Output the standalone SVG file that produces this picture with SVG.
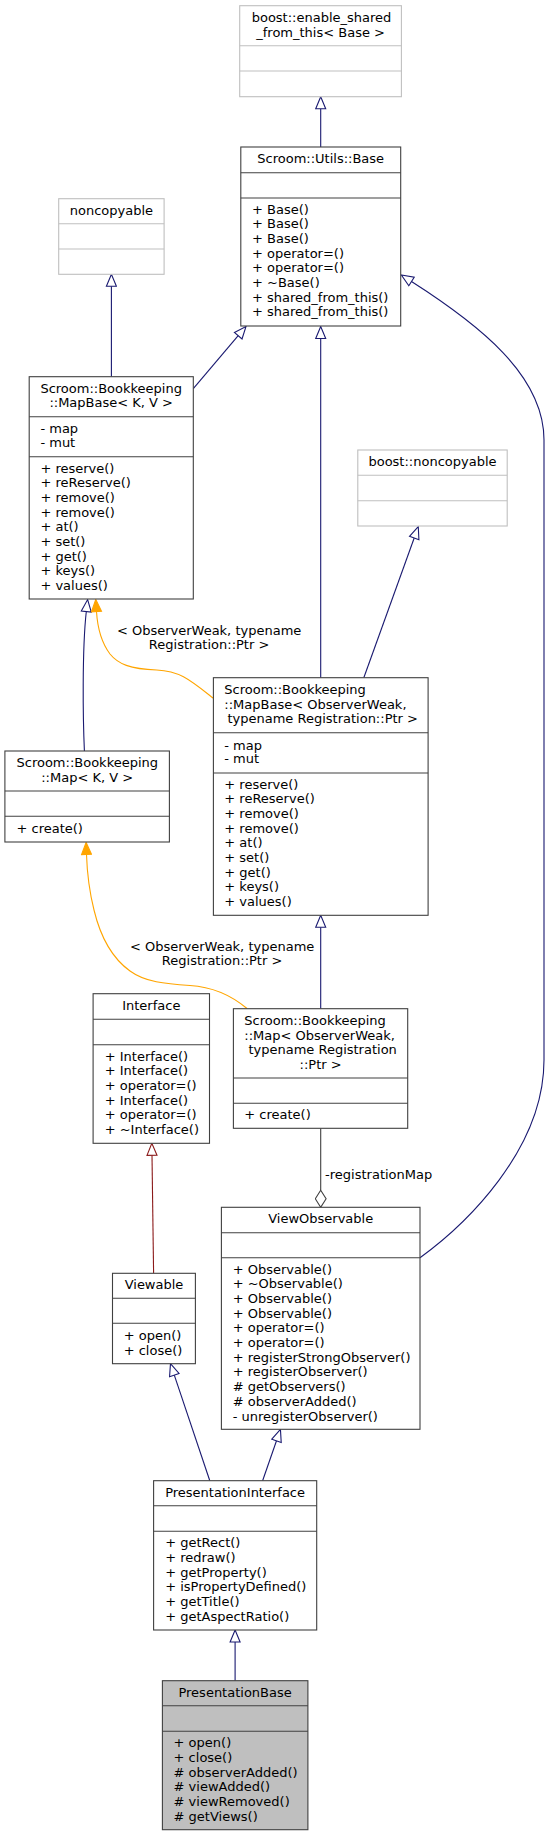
<svg xmlns="http://www.w3.org/2000/svg" width="551" height="1836" viewBox="0 0 551 1836">
<style>
text{font-family:"DejaVu Sans","Liberation Sans",sans-serif;font-size:13px;fill:#000}
.m{text-anchor:middle}
.box{fill:#fff;stroke:#404040;stroke-width:1.1}
.ext{fill:#fff;stroke:#bfbfbf;stroke-width:1.1}
.main{fill:#bfbfbf;stroke:#404040;stroke-width:1.1}
.sep{stroke:#404040;stroke-width:1.1}
.sepx{stroke:#bfbfbf;stroke-width:1.1}
.eb{fill:none;stroke:#191970;stroke-width:1.1}
.eo{fill:none;stroke:#ffa500;stroke-width:1.1}
.er{fill:none;stroke:#8b1a1a;stroke-width:1.1}
.eg{fill:none;stroke:#404040;stroke-width:1.1}
</style>
<defs>
<marker id="hb" markerUnits="userSpaceOnUse" orient="auto" refX="0" refY="6" markerWidth="14" markerHeight="12" viewBox="-1 0 14 12"><path d="M0,1 L12,6 L0,11 Z" fill="#fff" stroke="#191970" stroke-width="1.1"/></marker>
<marker id="hr" markerUnits="userSpaceOnUse" orient="auto" refX="0" refY="6" markerWidth="14" markerHeight="12" viewBox="-1 0 14 12"><path d="M0,1 L12,6 L0,11 Z" fill="#fff" stroke="#8b1a1a" stroke-width="1.1"/></marker>
<marker id="fo" markerUnits="userSpaceOnUse" orient="auto" refX="0" refY="6" markerWidth="14" markerHeight="12" viewBox="-1 0 14 12"><path d="M0,1 L12,6 L0,11 Z" fill="#ffa500" stroke="#ffa500" stroke-width="1.1"/></marker>
<marker id="dg" markerUnits="userSpaceOnUse" orient="auto" refX="0" refY="6" markerWidth="19" markerHeight="12" viewBox="-1 0 19 12"><path d="M0,6 L8.5,0.6 L17,6 L8.5,11.4 Z" fill="#fff" stroke="#404040" stroke-width="1.1"/></marker>
</defs>

<g id="connectors">
<path class="eb" d="M320.7,147 L320.7,108.7" marker-end="url(#hb)"/>
<path class="eb" d="M111.4,376.7 L111.4,286.3" marker-end="url(#hb)"/>
<path class="eb" d="M193.3,388.7 L238.2,335.7" marker-end="url(#hb)"/>
<path class="eb" d="M320.7,677.7 L320.7,338.5" marker-end="url(#hb)"/>
<path class="eb" d="M363.8,677.7 L414.2,538" marker-end="url(#hb)"/>
<path class="eb" d="M84.4,751 C83,720 82,650 86.3,611.5" marker-end="url(#hb)"/>
<path class="eo" d="M213.4,698.3 C190,680 180,671 156.7,670 C130,669 118,664 110,654 C101,642 97.5,628 96.5,611.5" marker-end="url(#fo)"/>
<text class="m" x="209.1" y="635.2">&lt; ObserverWeak, typename</text>
<text class="m" x="209.1" y="648.8">Registration::Ptr &gt;</text>
<path class="eo" d="M247,1008.5 C232,996 215,987 190,985.5 C165,984 145,982 130,971 C112,958 100,935 94,910 C89,890 87,870 86.5,854.5" marker-end="url(#fo)"/>
<text class="m" x="222.1" y="950.8">&lt; ObserverWeak, typename</text>
<text class="m" x="222.1" y="965.2">Registration::Ptr &gt;</text>
<path class="eb" d="M320.7,1008.7 L320.7,927.3" marker-end="url(#hb)"/>
<path class="eg" d="M320.7,1128.3 L320.7,1190.3" marker-end="url(#dg)"/>
<text x="325.1" y="1178.8">-registrationMap</text>
<path class="eb" d="M420,1257.7 C465,1225 544,1150 544,1060 L544,440 C544,375 478,324 411.5,281.5" marker-end="url(#hb)"/>
<path class="er" d="M153.6,1273.3 L152,1155.3" marker-end="url(#hr)"/>
<path class="eb" d="M209.8,1480.7 L174.3,1375.1" marker-end="url(#hb)"/>
<path class="eb" d="M262.6,1480.7 L276.5,1440.8" marker-end="url(#hb)"/>
<path class="eb" d="M235.1,1680.7 L235.1,1642" marker-end="url(#hb)"/>
</g>

<g id="enable_shared_from_this">
<rect class="ext" x="239.7" y="5.7" width="161.7" height="91"/>
<line class="sepx" x1="239.7" y1="45.7" x2="401.4" y2="45.7"/>
<line class="sepx" x1="239.7" y1="71" x2="401.4" y2="71"/>
<text x="251.7" y="21.8">boost::enable_shared</text>
<text class="m" x="320.6" y="36.5">_from_this&lt; Base &gt;</text>
</g>

<g id="Base">
<rect class="box" x="240.8" y="147" width="159.9" height="179"/>
<line class="sep" x1="240.8" y1="172.7" x2="400.7" y2="172.7"/>
<line class="sep" x1="240.8" y1="198" x2="400.7" y2="198"/>
<text class="m" x="320.7" y="163.2">Scroom::Utils::Base</text>
<text x="252" y="213.8">+ Base()<tspan x="252" dy="14.67">+ Base()</tspan><tspan x="252" dy="14.67">+ Base()</tspan><tspan x="252" dy="14.67">+ operator=()</tspan><tspan x="252" dy="14.67">+ operator=()</tspan><tspan x="252" dy="14.67">+ ~Base()</tspan><tspan x="252" dy="14.67">+ shared_from_this()</tspan><tspan x="252" dy="14.67">+ shared_from_this()</tspan></text>
</g>

<g id="noncopyable">
<rect class="ext" x="58.7" y="198.7" width="105.4" height="75.6"/>
<line class="sepx" x1="58.7" y1="223.7" x2="164.1" y2="223.7"/>
<line class="sepx" x1="58.7" y1="249" x2="164.1" y2="249"/>
<text class="m" x="111.4" y="214.8">noncopyable</text>
</g>

<g id="MapBaseKV">
<rect class="box" x="29.2" y="376.7" width="164.1" height="222.3"/>
<line class="sep" x1="29.2" y1="416.7" x2="193.3" y2="416.7"/>
<line class="sep" x1="29.2" y1="456.7" x2="193.3" y2="456.7"/>
<text x="40.4" y="393.2">Scroom::Bookkeeping</text>
<text class="m" x="111.2" y="406.8">::MapBase&lt; K, V &gt;</text>
<text x="40.4" y="433.2">- map<tspan x="40.4" dy="14.2">- mut</tspan></text>
<text x="40.4" y="472.5">+ reserve()<tspan x="40.4" dy="14.67">+ reReserve()</tspan><tspan x="40.4" dy="14.67">+ remove()</tspan><tspan x="40.4" dy="14.67">+ remove()</tspan><tspan x="40.4" dy="14.67">+ at()</tspan><tspan x="40.4" dy="14.67">+ set()</tspan><tspan x="40.4" dy="14.67">+ get()</tspan><tspan x="40.4" dy="14.67">+ keys()</tspan><tspan x="40.4" dy="14.67">+ values()</tspan></text>
</g>

<g id="boost_noncopyable">
<rect class="ext" x="357.8" y="450" width="149.4" height="76"/>
<line class="sepx" x1="357.8" y1="475.3" x2="507.2" y2="475.3"/>
<line class="sepx" x1="357.8" y1="500.7" x2="507.2" y2="500.7"/>
<text class="m" x="432.5" y="465.8">boost::noncopyable</text>
</g>

<g id="MapBaseObserverWeak">
<rect class="box" x="213.4" y="677.7" width="214.7" height="237.6"/>
<line class="sep" x1="213.4" y1="732.7" x2="428.1" y2="732.7"/>
<line class="sep" x1="213.4" y1="773" x2="428.1" y2="773"/>
<text x="224.3" y="694.2">Scroom::Bookkeeping</text>
<text x="224.3" y="708.8">::MapBase&lt; ObserverWeak,</text>
<text class="m" x="322.7" y="723">typename Registration::Ptr &gt;</text>
<text x="224.3" y="749.5">- map<tspan x="224.3" dy="13.7">- mut</tspan></text>
<text x="224.3" y="788.8">+ reserve()<tspan x="224.3" dy="14.67">+ reReserve()</tspan><tspan x="224.3" dy="14.67">+ remove()</tspan><tspan x="224.3" dy="14.67">+ remove()</tspan><tspan x="224.3" dy="14.67">+ at()</tspan><tspan x="224.3" dy="14.67">+ set()</tspan><tspan x="224.3" dy="14.67">+ get()</tspan><tspan x="224.3" dy="14.67">+ keys()</tspan><tspan x="224.3" dy="14.67">+ values()</tspan></text>
</g>

<g id="MapKV">
<rect class="box" x="4.9" y="751" width="164.5" height="91"/>
<line class="sep" x1="4.9" y1="791" x2="169.4" y2="791"/>
<line class="sep" x1="4.9" y1="816.3" x2="169.4" y2="816.3"/>
<text x="16.5" y="767.2">Scroom::Bookkeeping</text>
<text class="m" x="87.2" y="781.8">::Map&lt; K, V &gt;</text>
<text x="16.5" y="832.8">+ create()</text>
</g>

<g id="Interface">
<rect class="box" x="93.1" y="993.7" width="116.4" height="149.6"/>
<line class="sep" x1="93.1" y1="1019.3" x2="209.5" y2="1019.3"/>
<line class="sep" x1="93.1" y1="1044.7" x2="209.5" y2="1044.7"/>
<text class="m" x="151.3" y="1009.8">Interface</text>
<text x="104.7" y="1060.8">+ Interface()<tspan x="104.7" dy="14.67">+ Interface()</tspan><tspan x="104.7" dy="14.67">+ operator=()</tspan><tspan x="104.7" dy="14.67">+ Interface()</tspan><tspan x="104.7" dy="14.67">+ operator=()</tspan><tspan x="104.7" dy="14.67">+ ~Interface()</tspan></text>
</g>

<g id="MapObserverWeak">
<rect class="box" x="233.4" y="1008.7" width="174.3" height="119.6"/>
<line class="sep" x1="233.4" y1="1078" x2="407.7" y2="1078"/>
<line class="sep" x1="233.4" y1="1103.3" x2="407.7" y2="1103.3"/>
<text x="244.3" y="1025.2">Scroom::Bookkeeping</text>
<text x="244.3" y="1039.5">::Map&lt; ObserverWeak,</text>
<text x="248.4" y="1054.2">typename Registration</text>
<text class="m" x="320.6" y="1068.9">::Ptr &gt;</text>
<text x="244.3" y="1118.8">+ create()</text>
</g>

<g id="ViewObservable">
<rect class="box" x="221.4" y="1207.3" width="198.6" height="222"/>
<line class="sep" x1="221.4" y1="1232.7" x2="420" y2="1232.7"/>
<line class="sep" x1="221.4" y1="1257.7" x2="420" y2="1257.7"/>
<text class="m" x="320.7" y="1223.2">ViewObservable</text>
<text x="232.7" y="1273.8">+ Observable()<tspan x="232.7" dy="14.67">+ ~Observable()</tspan><tspan x="232.7" dy="14.67">+ Observable()</tspan><tspan x="232.7" dy="14.67">+ Observable()</tspan><tspan x="232.7" dy="14.67">+ operator=()</tspan><tspan x="232.7" dy="14.67">+ operator=()</tspan><tspan x="232.7" dy="14.67">+ registerStrongObserver()</tspan><tspan x="232.7" dy="14.67">+ registerObserver()</tspan><tspan x="232.7" dy="14.67"># getObservers()</tspan><tspan x="232.7" dy="14.67"># observerAdded()</tspan><tspan x="232.7" dy="14.67">- unregisterObserver()</tspan></text>
</g>

<g id="Viewable">
<rect class="box" x="112.5" y="1273.3" width="82.9" height="90.4"/>
<line class="sep" x1="112.5" y1="1298.3" x2="195.4" y2="1298.3"/>
<line class="sep" x1="112.5" y1="1323.3" x2="195.4" y2="1323.3"/>
<text class="m" x="154" y="1288.8">Viewable</text>
<text x="123.7" y="1340.2">+ open()<tspan x="123.7" dy="14.67">+ close()</tspan></text>
</g>

<g id="PresentationInterface">
<rect class="box" x="153.6" y="1480.7" width="163.1" height="149.3"/>
<line class="sep" x1="153.6" y1="1505.7" x2="316.7" y2="1505.7"/>
<line class="sep" x1="153.6" y1="1531.3" x2="316.7" y2="1531.3"/>
<text class="m" x="235.1" y="1496.8">PresentationInterface</text>
<text x="165.2" y="1547.2">+ getRect()<tspan x="165.2" dy="14.67">+ redraw()</tspan><tspan x="165.2" dy="14.67">+ getProperty()</tspan><tspan x="165.2" dy="14.67">+ isPropertyDefined()</tspan><tspan x="165.2" dy="14.67">+ getTitle()</tspan><tspan x="165.2" dy="14.67">+ getAspectRatio()</tspan></text>
</g>

<g id="PresentationBase">
<rect class="main" x="162.4" y="1680.7" width="145.5" height="149"/>
<line class="sep" x1="162.4" y1="1705.7" x2="307.9" y2="1705.7"/>
<line class="sep" x1="162.4" y1="1731.3" x2="307.9" y2="1731.3"/>
<text class="m" x="235.1" y="1697.2">PresentationBase</text>
<text x="173.6" y="1747.2">+ open()<tspan x="173.6" dy="14.67">+ close()</tspan><tspan x="173.6" dy="14.67"># observerAdded()</tspan><tspan x="173.6" dy="14.67"># viewAdded()</tspan><tspan x="173.6" dy="14.67"># viewRemoved()</tspan><tspan x="173.6" dy="14.67"># getViews()</tspan></text>
</g>
</svg>
